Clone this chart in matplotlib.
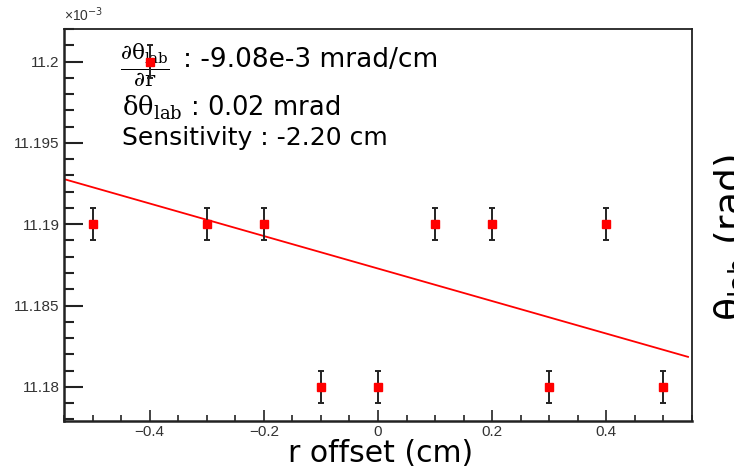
import numpy as np
import matplotlib
matplotlib.use('Agg')
import matplotlib.pyplot as plt
from matplotlib.ticker import MultipleLocator, FixedLocator

# r offset (cm) and theta_lab (x 1e-3 rad)
r_offset = [-0.5, -0.4, -0.3, -0.2, -0.1, 0.0, 0.1, 0.2, 0.3, 0.4, 0.5]
theta_lab = [11.19, 11.20, 11.19, 11.19, 11.18, 11.18, 11.19, 11.19, 11.18, 11.19, 11.18]
theta_err = [0.001] * 11

x_ticks = [-0.4, -0.2, 0.0, 0.2, 0.4]
x_ticklabels = ['\u22120.4', '\u22120.2', '0', '0.2', '0.4']
y_ticks = [11.18, 11.185, 11.19, 11.195, 11.2]
y_ticklabels = ['11.18', '11.185', '11.19', '11.195', '11.2']

TXT_FONT = ['DejaVu Sans']
TICK_FONT = ['Liberation Sans', 'DejaVu Sans']

plt.rcParams['mathtext.fontset'] = 'custom'
plt.rcParams['mathtext.rm'] = 'DejaVu Serif'
plt.rcParams['mathtext.it'] = 'DejaVu Serif:italic'
plt.rcParams['mathtext.bf'] = 'DejaVu Serif:bold'

fig = plt.figure(figsize=(7.34, 4.67), dpi=100)
ax = fig.add_axes([0.0872, 0.0985, 0.8556, 0.8394])

ax.errorbar(r_offset, theta_lab, yerr=theta_err, fmt='s', color='red',
            markersize=5.7, ecolor='#222222', elinewidth=1.4, capsize=2.2,
            capthick=1.4, zorder=3)

# linear fit drawn across the axis range
slope, icpt = np.polyfit(r_offset, theta_lab, 1)
xlim = (-0.55, 0.55)
xf = np.array([xlim[0], 0.543])
ax.plot(xf, slope * xf + icpt, color='red', lw=1.3, zorder=2)

ax.set_xlim(*xlim)
ax.set_ylim(11.1779, 11.2020)

ax.xaxis.set_major_locator(FixedLocator(x_ticks))
ax.set_xticklabels(x_ticklabels)
ax.xaxis.set_minor_locator(MultipleLocator(0.05))
ax.yaxis.set_major_locator(FixedLocator(y_ticks))
ax.set_yticklabels(y_ticklabels)
ax.yaxis.set_minor_locator(MultipleLocator(0.001))
for lab in ax.get_xticklabels() + ax.get_yticklabels():
    lab.set_family(TICK_FONT)

ax.tick_params(axis='both', which='both', direction='in', color='#222222',
               labelcolor='#333333', labelsize=11)
ax.tick_params(axis='y', which='major', length=13.5, width=1.5, pad=3)
ax.tick_params(axis='y', which='minor', length=7.2, width=1.5)
ax.tick_params(axis='x', which='major', length=8, width=1.2, pad=3)
ax.tick_params(axis='x', which='minor', length=4.3, width=1.2)
for side in ['left', 'bottom']:
    ax.spines[side].set_linewidth(1.8)
    ax.spines[side].set_color('#222222')
for side in ['top', 'right']:
    ax.spines[side].set_linewidth(1.3)
    ax.spines[side].set_color('#222222')

fig.text(64 / 734, 1 - 15 / 467, '\u00d710$^{-3}$', family=TICK_FONT,
         fontsize=10, color='#333333', ha='left', va='center',
         math_fontfamily='dejavusans')

fig.text(381 / 734, 1 - 462 / 467, 'r offset (cm)', family=TXT_FONT,
         fontsize=21.5, ha='center', va='baseline')
# y label sits at the right edge and runs off the picture, as in the original
fig.text(712 / 734, 1 - 238 / 467, '\u03b8$_{\\rm lab}$ (rad)',
         family=TXT_FONT, fontsize=27, rotation=90, ha='left',
         va='center', math_fontfamily='dejavusans')

# annotation block, kept below the data markers
tf = fig.transFigure
ax.text(120 / 734, 1 - 65 / 467,
        r'$\frac{\partial\mathrm{\theta}_{\rm lab}}{\partial{\rm r}}$',
        fontsize=22, ha='left', va='center', transform=tf, zorder=1)
ax.text(183 / 734, 1 - 67 / 467, ': -9.08e-3 mrad/cm', family=TXT_FONT,
        fontsize=19, ha='left', va='baseline', transform=tf, zorder=1)
ax.text(122 / 734, 1 - 116 / 467,
        r'$\mathrm{\delta\theta}_{\rm lab}$' + ' : 0.02 mrad',
        family=TXT_FONT, fontsize=18.5, ha='left', va='baseline',
        transform=tf, zorder=1)
ax.text(122 / 734, 1 - 145 / 467, 'Sensitivity : -2.20 cm',
        family=TXT_FONT, fontsize=18, ha='left', va='baseline',
        transform=tf, zorder=1)

fig.savefig('out.png', dpi=100)
